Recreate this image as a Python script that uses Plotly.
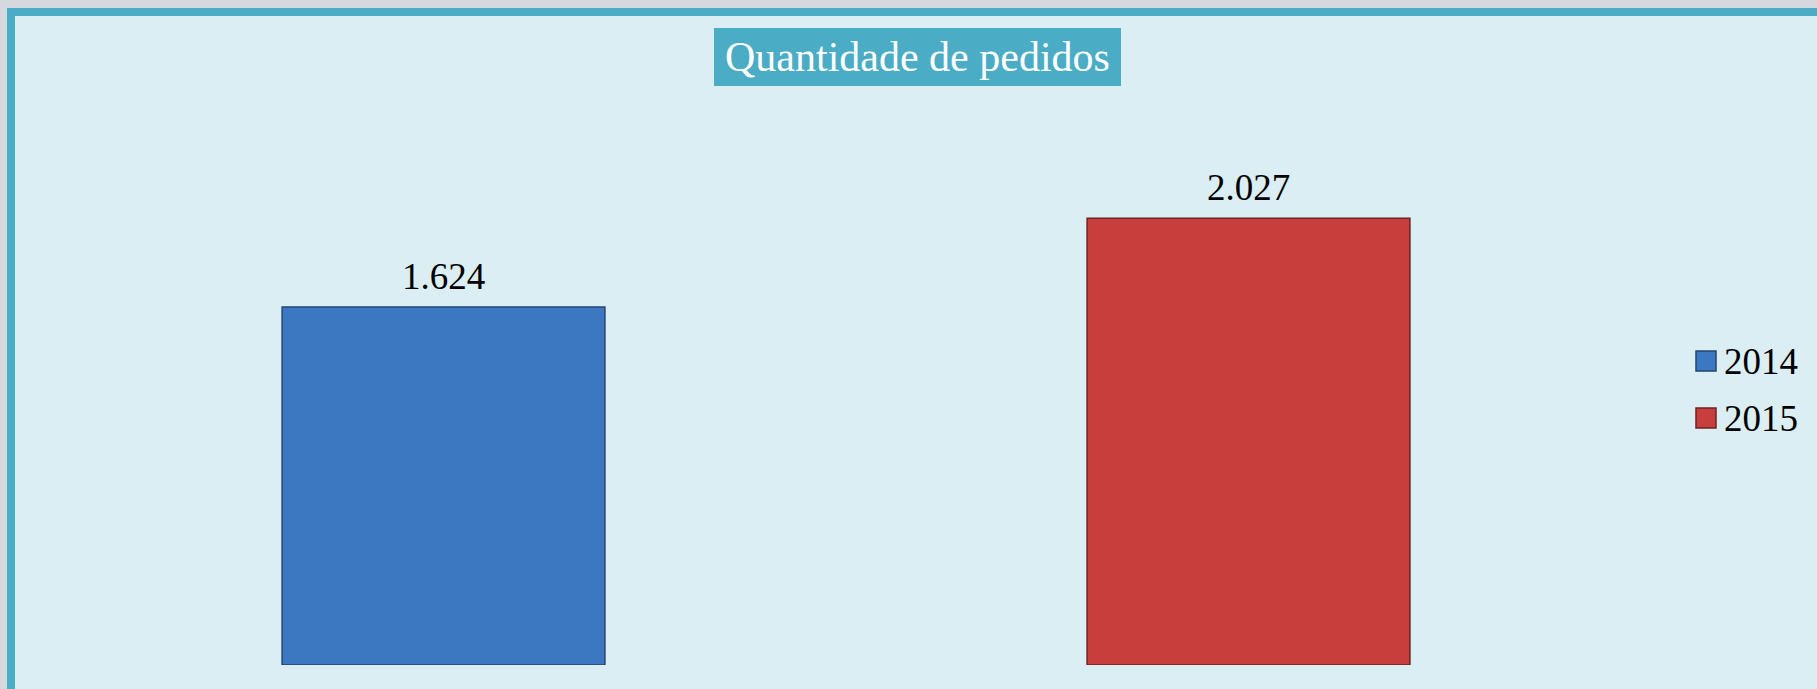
import plotly.graph_objects as go

# ---- data ----
years = ["2014", "2015"]
pedidos = [1624, 2027]
bar_colors = ["#3c78c2", "#c83e3c"]
edge_colors = ["#24446f", "#6e2222"]
title_text = "Quantidade de pedidos"

W, H = 1817, 689


def px(x):
    return x / W


def py(y):
    return 1 - y / H


def fmt(v):
    return f"{v:,}".replace(",", ".")


SERIF = "Liberation Serif, Times New Roman, serif"

fig = go.Figure()
for yr, v, c, e in zip(years, pedidos, bar_colors, edge_colors):
    fig.add_trace(
        go.Bar(
            x=[yr],
            y=[v],
            name=yr,
            width=0.401,
            marker=dict(color=c, line=dict(color=e, width=1.5)),
            showlegend=False,
            hoverinfo="x+y",
        )
    )

annotations = []
# value labels (category index positions)
for i, v in enumerate(pedidos):
    annotations.append(
        dict(
            x=i, y=v, xref="x", yref="y",
            text=fmt(v), showarrow=False,
            yanchor="bottom", xanchor="center", yshift=8,
            font=dict(family=SERIF, size=37, color="#000000"),
        )
    )

# title
annotations.append(
    dict(
        x=px(917.5), y=py(57), xref="paper", yref="paper",
        text=title_text, showarrow=False,
        xanchor="center", yanchor="middle",
        font=dict(family=SERIF, size=42, color="#ffffff"),
    )
)

shapes = [
    # outer teal frame
    dict(type="rect", xref="paper", yref="paper", layer="below",
         x0=px(7), x1=1.02, y0=-0.02, y1=py(8),
         fillcolor="#4bacc6", line=dict(width=0)),
    # inner light area
    dict(type="rect", xref="paper", yref="paper", layer="below",
         x0=px(15), x1=1.02, y0=-0.02, y1=py(16),
         fillcolor="#daeef3", line=dict(width=0)),
    # title box
    dict(type="rect", xref="paper", yref="paper", layer="below",
         x0=px(714), x1=px(1121), y0=py(86), y1=py(28),
         fillcolor="#4bacc6", line=dict(width=0)),
]

# manual legend
leg_y = [361, 418]
for yr, c, e, ly in zip(years, bar_colors, edge_colors, leg_y):
    shapes.append(
        dict(type="rect", xref="paper", yref="paper",
             x0=px(1696), x1=px(1716), y0=py(ly + 10), y1=py(ly - 10),
             fillcolor=c, line=dict(color=e, width=1.5))
    )
    annotations.append(
        dict(x=px(1722), y=py(ly), xref="paper", yref="paper",
             text=yr, showarrow=False, xanchor="left", yanchor="middle",
             font=dict(family=SERIF, size=37, color="#000000"))
    )

fig.update_layout(
    width=W,
    height=H,
    margin=dict(l=0, r=0, t=0, b=0),
    paper_bgcolor="#d5d8dc",
    plot_bgcolor="rgba(0,0,0,0)",
    barmode="overlay",
    showlegend=False,
    xaxis=dict(domain=[px(41), px(1651)], visible=False, type="category",
               categoryorder="array", categoryarray=years,
               range=[-0.5, 1.5], autorange=False),
    yaxis=dict(domain=[py(665), py(114)], range=[0, 2500], autorange=False,
               visible=False),
    shapes=shapes,
    annotations=annotations,
)

fig.write_html("out.html",
               config={"displayModeBar": False},
               post_script="document.body.style.margin='0';document.body.style.overflow='hidden';")
